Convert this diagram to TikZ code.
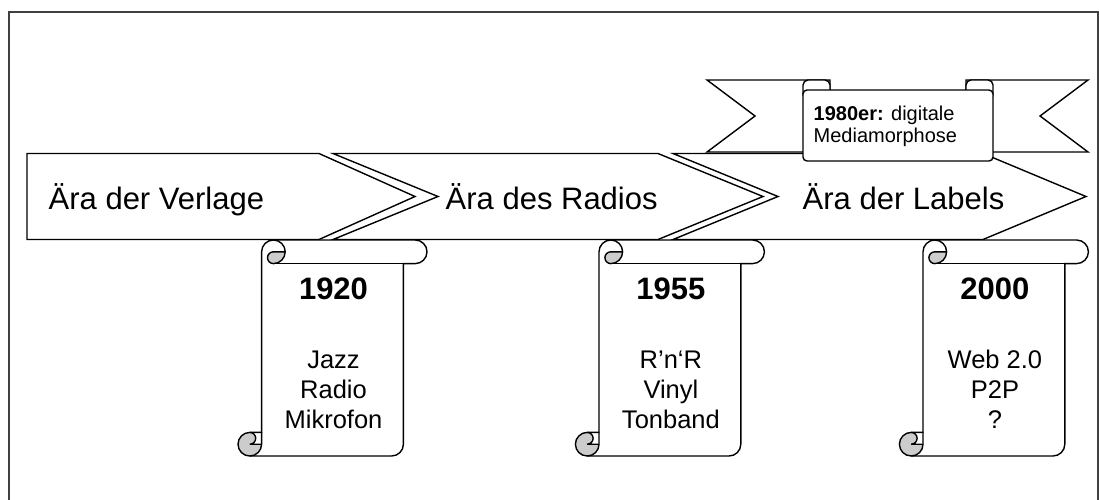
\documentclass[tikz,border=0pt]{standalone}
\usepackage{fontspec}
\setmainfont{Liberation Sans}

\begin{document}
\begin{tikzpicture}[
  x=1pt, y=-1pt,
  line width=1.4pt, line join=miter,
  frame/.style={draw=black!75, line width=2pt},
  era/.style={draw, fill=white},
  eralabel/.style={anchor=base west, inner sep=0pt, font=\fontsize{31}{37}\selectfont},
  year/.style={anchor=base, inner sep=0pt, font=\fontsize{31}{37}\selectfont\bfseries},
  items/.style={anchor=base, inner sep=0pt, align=center, font=\fontsize{25.5}{30}\selectfont},
  ribbon/.style={draw, fill=white},
  ribbontext/.style={anchor=base west, inner sep=0pt, align=left, font=\fontsize{20}{22}\selectfont},
  curl/.style={fill=black!20},
  paperscroll/.pic={
    \fill[white] (11.8,216) arc[start angle=90, end angle=0, radius=11.8]
      -- (23.6,11.8) arc[start angle=180, end angle=270, radius=11.8]
      -- (177.2,0) arc[start angle=270, end angle=450, radius=11.8]
      -- (165.4,23.6) -- (165.4,204.2) arc[start angle=0, end angle=90, radius=11.8] -- cycle;
    \fill[curl] (47.2,11.8) arc[start angle=0, end angle=90, radius=11.8]
      arc[start angle=90, end angle=270, radius=5.9] -- cycle;
    \fill[curl] (23.6,204.2) arc[start angle=0, end angle=270, radius=11.8]
      arc[start angle=270, end angle=450, radius=5.9] -- cycle;
    \draw (23.6,192.4) -- (23.6,11.8) arc[start angle=180, end angle=270, radius=11.8]
      -- (177.2,0) arc[start angle=270, end angle=450, radius=11.8]
      -- (165.4,23.6) -- (165.4,204.2) arc[start angle=0, end angle=90, radius=11.8]
      -- (11.8,216) arc[start angle=90, end angle=270, radius=11.8] -- cycle;
    \draw (35.4,0) arc[start angle=270, end angle=450, radius=11.8]
      arc[start angle=90, end angle=270, radius=5.9] -- (47.2,11.8);
    \draw (165.4,23.6) -- (35.4,23.6);
    \draw (11.8,192.4) arc[start angle=270, end angle=450, radius=5.9] -- (23.6,204.2);
    \draw (11.8,216) arc[start angle=90, end angle=0, radius=11.8] -- (23.6,192.4);
  },
]
\useasboundingbox (0,0) rectangle (1099,499);
\clip (0,0) rectangle (1099,499);

% ---- Frame -----------------------------------------------------------------
\draw[frame] (9,12) rectangle (1097.5,520);

% ---- Eras as chevron arrows ------------------------------------------------
\draw[era] (27,153.5) -- (319,153.5) -- (415,196.5) -- (319,239.5) -- (27,239.5) -- cycle;
\draw[era] (333,153.5) -- (658,153.5) -- (763,196.5) -- (658,239.5) -- (333,239.5) -- (438,196.5) -- cycle;
\draw[era] (673,153.5) -- (983,153.5) -- (1086,196.5) -- (983,239.5) -- (673,239.5) -- (778,196.5) -- cycle;

\node[eralabel] (verlage) at (48,209)  {Ära der Verlage};
\node[eralabel] (radios)  at (445,209) {Ära des Radios};
\node[eralabel] (labels)  at (802,209) {Ära der Labels};

% ---- Scrolls with the turning points ---------------------------------------
\pic at (238,240)   {paperscroll};
\pic at (575.4,240) {paperscroll};
\pic at (899.4,240) {paperscroll};

\node[year] (y1920) at (333.5,299) {1920};
\node[year] (y1955) at (670.9,299) {1955};
\node[year] (y2000) at (994.9,299) {2000};

% (base of a multi-line node is its last line)
\node[items] (media1920) at (333.5,428) {Jazz\\Radio\\Mikrofon};
\node[items] (media1955) at (670.9,428) {R’n‘R\\Vinyl\\Tonband};
\node[items] (media2000) at (994.9,428) {Web 2.0\\P2P\\?};

% ---- Ribbon: digital mediamorphosis ----------------------------------------
\draw[ribbon] (707,80) -- (830,80) -- (830,152) -- (707,152) -- (755,116) -- cycle;
\draw[ribbon] (1088,80) -- (966,80) -- (966,152) -- (1088,152) -- (1040,116) -- cycle;
\draw[ribbon, rounded corners=5pt] (803,100) rectangle (830,80);
\draw[ribbon, rounded corners=5pt] (966,100) rectangle (993,80);
\draw[ribbon, rounded corners=4pt] (803,90) rectangle (993,161);

\node[ribbontext] (mediamorphose) at (813,142) {\textbf{1980er:} digitale\\Mediamorphose};

\end{tikzpicture}
\end{document}
